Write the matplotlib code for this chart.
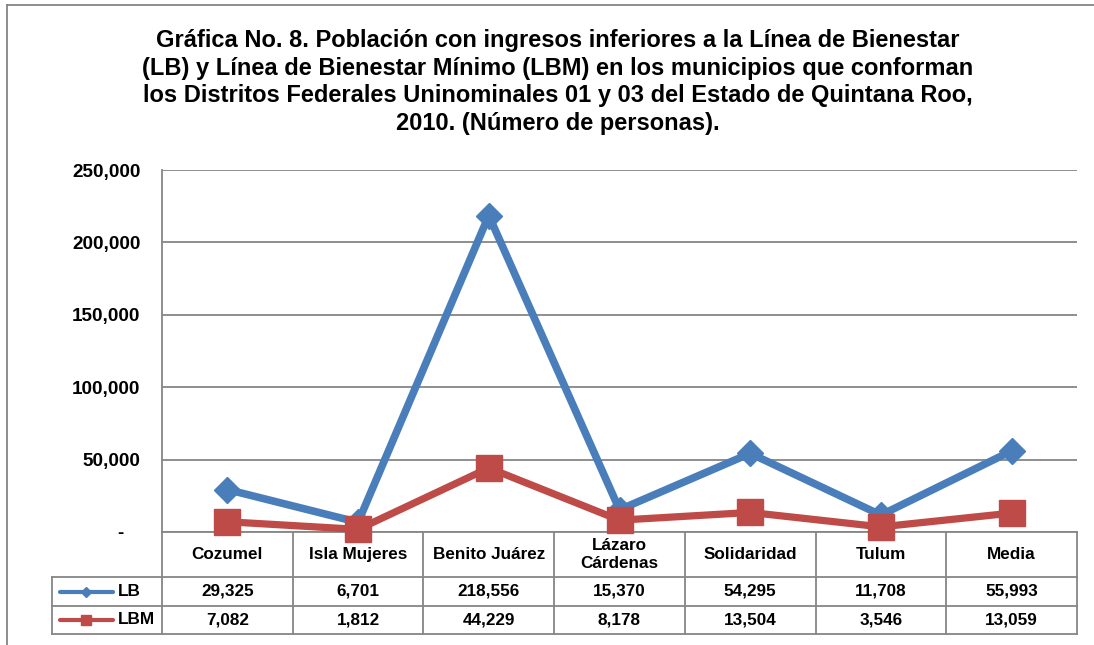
import matplotlib.pyplot as plt
from matplotlib.lines import Line2D

plt.rcParams['font.family'] = ['Liberation Sans', 'DejaVu Sans']
plt.rcParams['font.weight'] = 'bold'

municipios = ['Cozumel', 'Isla Mujeres', 'Benito Juárez', 'Lázaro\nCárdenas',
              'Solidaridad', 'Tulum', 'Media']
lb = [29325, 6701, 218556, 15370, 54295, 11708, 55993]
lbm = [7082, 1812, 44229, 8178, 13504, 3546, 13059]
series_names = ['LB', 'LBM']
y_ticks = [0, 50000, 100000, 150000, 200000, 250000]

titulo = ('Gráfica No. 8. Población con ingresos inferiores a la Línea de Bienestar\n'
          '(LB) y Línea de Bienestar Mínimo (LBM) en los municipios que conforman\n'
          'los Distritos Federales Uninominales 01 y 03 del Estado de Quintana Roo,\n'
          '2010. (Número de personas).')

azul = '#4A7EBB'
rojo = '#BE4B48'
gris = '#868686'

W, H = 1094, 645
fig = plt.figure(figsize=(W / 100, H / 100), dpi=100)
ax = fig.add_axes([162 / W, (H - 532) / H, 915 / W, 362 / H])

n = len(municipios)
xs = [i + 0.5 for i in range(n)]

ax.plot(xs, lb, color=azul, lw=5.5, marker='D', ms=13.5, clip_on=False, zorder=3)
ax.plot(xs, lbm, color=rojo, lw=5.2, marker='s', ms=19, clip_on=False, zorder=4)

ax.set_xlim(0, n)
ax.set_ylim(0, 250000)
ax.set_yticks(y_ticks)
ax.set_yticklabels(['-   '] + ['{:,}'.format(v) for v in y_ticks[1:]],
                   fontsize=13.6, fontweight='bold')
ax.tick_params(axis='y', length=0, pad=15.5)
ax.set_xticks([])
for s in ['top', 'right', 'bottom']:
    ax.spines[s].set_visible(False)
ax.spines['left'].set_color(gris)
ax.spines['left'].set_linewidth(1.3)
ax.grid(axis='y', color=gris, lw=1.3)
ax.set_axisbelow(True)

# tabla de datos debajo del grafico
tr = ax.get_xaxis_transform()
y_head = -45 / 362
y_r1 = -74 / 362
y_r2 = -102 / 362
x_leg = (52 - 162) / 130.7

def linea(x, y, **kw):
    ax.add_line(Line2D(x, y, transform=tr, color=gris, lw=1.3, clip_on=False, **kw))

for y in [0, y_head, y_r1, y_r2]:
    linea([x_leg if y != 0 else 0, n], [y, y])
for i in range(n + 1):
    linea([i, i], [0, y_r2])
linea([x_leg, x_leg], [y_head, y_r2])

for i, m in enumerate(municipios):
    ax.text(xs[i], y_head / 2, m, transform=tr, ha='center', va='center',
            fontsize=12.3, fontweight='bold', linespacing=1.3)
    ax.text(xs[i], (y_head + y_r1) / 2, '{:,}'.format(lb[i]), transform=tr,
            ha='center', va='center', fontsize=12.3, fontweight='bold')
    ax.text(xs[i], (y_r1 + y_r2) / 2, '{:,}'.format(lbm[i]), transform=tr,
            ha='center', va='center', fontsize=12.3, fontweight='bold')

# leyenda dentro de la tabla
x0, x1, xm = (60 - 162) / 130.7, (113 - 162) / 130.7, (86 - 162) / 130.7
for yy, col, mk, ms, name in [((y_head + y_r1) / 2, azul, 'D', 5, series_names[0]),
                              ((y_r1 + y_r2) / 2, rojo, 's', 7, series_names[1])]:
    ax.add_line(Line2D([x0, x1], [yy, yy], transform=tr, color=col, lw=3,
                       solid_capstyle='round', clip_on=False))
    ax.add_line(Line2D([xm], [yy], transform=tr, color=col, marker=mk, ms=ms,
                       clip_on=False))
    ax.text((118 - 162) / 130.7, yy, name, transform=tr, ha='left', va='center',
            fontsize=12.3, fontweight='bold')

fig.text(558 / W, 1 - 82 / H, titulo, ha='center', va='center', fontsize=17,
         fontweight='bold', linespacing=1.27)

# marco exterior
fig.add_artist(Line2D([7 / W, 7 / W], [0, 1 - 5 / H], color=gris, lw=1.3))
fig.add_artist(Line2D([7 / W, 1], [1 - 5 / H, 1 - 5 / H], color=gris, lw=1.3))

fig.savefig('out.png', dpi=100)
